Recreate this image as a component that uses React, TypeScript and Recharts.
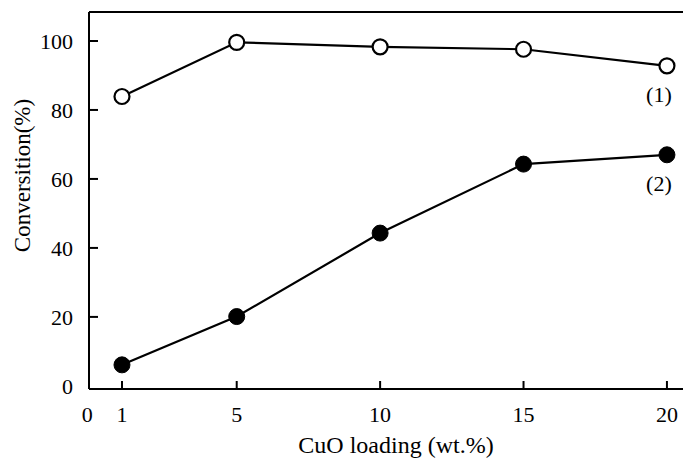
import { LineChart, Line, XAxis, YAxis, ReferenceLine } from 'recharts';

const loadings = [1, 5, 10, 15, 20];
const conversion1 = [83.9, 99.6, 98.3, 97.6, 92.8];
const conversion2 = [6.1, 20.1, 44.3, 64.3, 67.0];
const xTicks = [0, 1, 5, 10, 15, 20];
const yTicks = [0, 20, 40, 60, 80, 100];
const seriesNames = ['(1)', '(2)'];

const data = loadings.map((x, i) => ({ x, c1: conversion1[i], c2: conversion2[i] }));

const X_DOMAIN: [number, number] = [-0.15, 20.56];
const Y_DOMAIN: [number, number] = [-0.9, 108.4];
const FONT = '"Liberation Serif", "Times New Roman", serif';

const XTick = (props: any) => {
    const { x, y, payload } = props;
    const v = payload.value;
    return (
        <g>
            {v !== 0 && <line x1={x} y1={y} x2={x} y2={y - 8} stroke="#000" strokeWidth={2} />}
            <text x={v === 0 ? x - 6 : x} y={y + 33} textAnchor="middle" fill="#000" fontSize={22} fontFamily={FONT}>
                {v}
            </text>
        </g>
    );
};

const YTick = (props: any) => {
    const { x, y, payload } = props;
    const v = payload.value;
    return (
        <g>
            {v !== 0 && <line x1={x} y1={y} x2={x + 9} y2={y} stroke="#000" strokeWidth={2} />}
            <text x={x - 16} y={y + 8} textAnchor="end" fill="#000" fontSize={22} fontFamily={FONT}>
                {v}
            </text>
        </g>
    );
};

const endLabel = (name: string) => (props: any) => {
    const { x, y, index } = props;
    if (index !== loadings.length - 1) return null;
    return (
        <text x={x - 8} y={y + 36} textAnchor="middle" fill="#000" fontSize={22} fontFamily={FONT}>
            {name}
        </text>
    );
};

export default function App() {
    return (
        <div style={{ position: 'absolute', left: 0, top: 0, background: '#fff' }}>
            <LineChart
                width={683}
                height={460}
                data={data}
                margin={{ top: 12, right: 0, bottom: 0, left: 0 }}
                style={{ fontFamily: FONT }}
            >
                <XAxis
                    dataKey="x"
                    type="number"
                    domain={X_DOMAIN}
                    ticks={xTicks}
                    allowDataOverflow
                    height={71}
                    tickSize={0}
                    tickMargin={0}
                    tickLine={false}
                    tick={<XTick />}
                    axisLine={{ stroke: '#000', strokeWidth: 2 }}
                    label={{ value: 'CuO loading (wt.%)', position: 'center', dx: 10, dy: 20, fill: '#000', fontSize: 24, fontFamily: FONT }}
                />
                <YAxis
                    type="number"
                    domain={Y_DOMAIN}
                    ticks={yTicks}
                    allowDataOverflow
                    width={89}
                    tickSize={0}
                    tickMargin={0}
                    tickLine={false}
                    tick={<YTick />}
                    axisLine={{ stroke: '#000', strokeWidth: 2 }}
                    label={{ value: 'Conversition(%)', angle: -90, position: 'center', dx: -23, dy: -25, fill: '#000', fontSize: 23, fontFamily: FONT }}
                />
                <ReferenceLine y={Y_DOMAIN[1]} stroke="#000" strokeWidth={2} ifOverflow="visible" />
                <Line
                    dataKey="c1"
                    stroke="#000"
                    strokeWidth={2.2}
                    dot={{ r: 7.5, fill: '#fff', stroke: '#000', strokeWidth: 2.2 }}
                    label={endLabel(seriesNames[0])}
                    isAnimationActive={false}
                />
                <Line
                    dataKey="c2"
                    stroke="#000"
                    strokeWidth={2.2}
                    dot={{ r: 8, fill: '#000', stroke: '#000', strokeWidth: 1 }}
                    label={endLabel(seriesNames[1])}
                    isAnimationActive={false}
                />
            </LineChart>
        </div>
    );
}
